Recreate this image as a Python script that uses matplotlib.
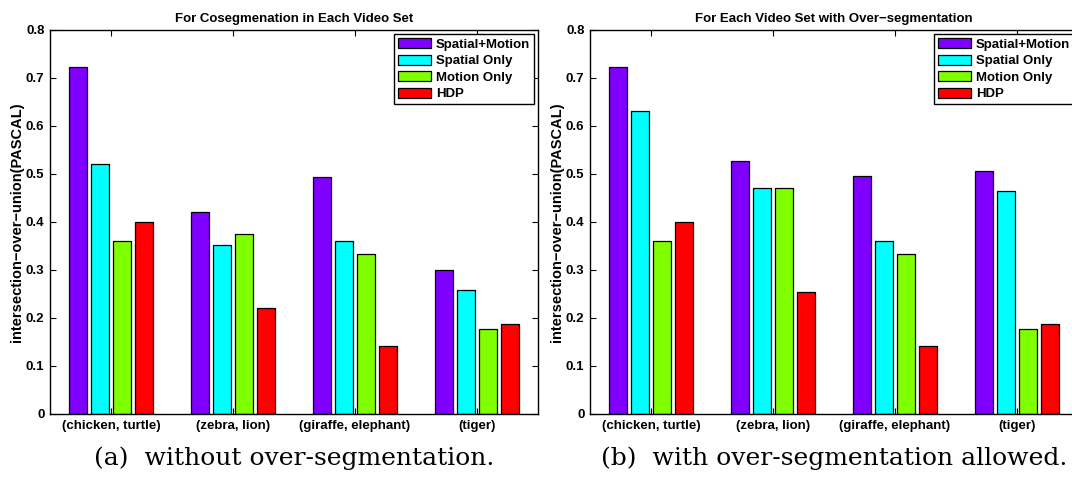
"""
grouped bar charts of intersection-over-union per video set,
without and with over-segmentation
"""

import numpy as np
import matplotlib
matplotlib.use("Agg")
import matplotlib.pyplot as plt

plt.rcParams["font.family"] = ["Liberation Sans", "DejaVu Sans"]
plt.rcParams["font.weight"] = "bold"

categories = ["(chicken, turtle)", "(zebra, lion)", "(giraffe, elephant)", "(tiger)"]
methods = ["Spatial+Motion", "Spatial Only", "Motion Only", "HDP"]
colors = ["#7f00ff", "#00ffff", "#7fff00", "#ff0000"]

# panel (a): cosegmentation in each video set
iou_a = {
    "Spatial+Motion": [0.723, 0.420, 0.494, 0.299],
    "Spatial Only":   [0.521, 0.353, 0.361, 0.258],
    "Motion Only":    [0.361, 0.374, 0.333, 0.178],
    "HDP":            [0.400, 0.220, 0.142, 0.187],
}
# panel (b): each video set with over-segmentation
iou_b = {
    "Spatial+Motion": [0.723, 0.527, 0.495, 0.506],
    "Spatial Only":   [0.632, 0.471, 0.361, 0.464],
    "Motion Only":    [0.361, 0.471, 0.333, 0.178],
    "HDP":            [0.400, 0.255, 0.142, 0.187],
}

titles = ["For Cosegmenation in Each Video Set",
          "For Each Video Set with Over\u2212segmentation"]
captions = ["(a)  without over-segmentation.",
            "(b)  with over-segmentation allowed."]
ylabel = "intersection\u2212over\u2212union(PASCAL)"

W, H = 1072, 482
fig = plt.figure(figsize=(W / 100, H / 100), dpi=100)

# matlab style grouped bars
n = len(methods)
group_w = n / (n + 1.5)
step = group_w / n
bar_w = 0.8 * step
x = np.arange(1, len(categories) + 1)

lefts = [50, 590]
for k, data in enumerate([iou_a, iou_b]):
    ax = fig.add_axes([lefts[k] / W, 68 / H, 488 / W, 384 / H])
    for i, m in enumerate(methods):
        off = (i - (n - 1) / 2) * step
        ax.bar(x + off, data[m], bar_w, color=colors[i], edgecolor="black",
               linewidth=0.9, label=m, zorder=2)
    ax.set_xlim(0.5, 4.5)
    ax.set_ylim(0, 0.8)
    ax.set_yticks(np.arange(0, 0.81, 0.1))
    ax.set_yticklabels(["0"] + ["%.1f" % v for v in np.arange(0.1, 0.81, 0.1)])
    ax.set_xticks(x)
    ax.set_xticklabels(categories)
    ax.tick_params(direction="in", length=4, width=0.8, top=True, right=True,
                   labelsize=9.5, pad=4)
    for s in ax.spines.values():
        s.set_linewidth(1.0)
    ax.set_title(titles[k], fontsize=9.5, fontweight="bold", pad=6)
    ax.set_ylabel(ylabel, fontsize=10.5, fontweight="bold", labelpad=1)
    leg = ax.legend(loc="upper right", fontsize=9.5, frameon=True, fancybox=False,
                    edgecolor="black", framealpha=1, handlelength=2.5,
                    handleheight=0.8, labelspacing=0.3, borderaxespad=0.3,
                    borderpad=0.3, handletextpad=0.4)
    leg.get_frame().set_linewidth(1.0)

    cx = (lefts[k] + 244) / W
    fig.text(cx, 24 / H, captions[k], ha="center", va="center",
             family="DejaVu Serif", fontweight="normal", fontsize=18)

fig.savefig("out.png", dpi=100)
